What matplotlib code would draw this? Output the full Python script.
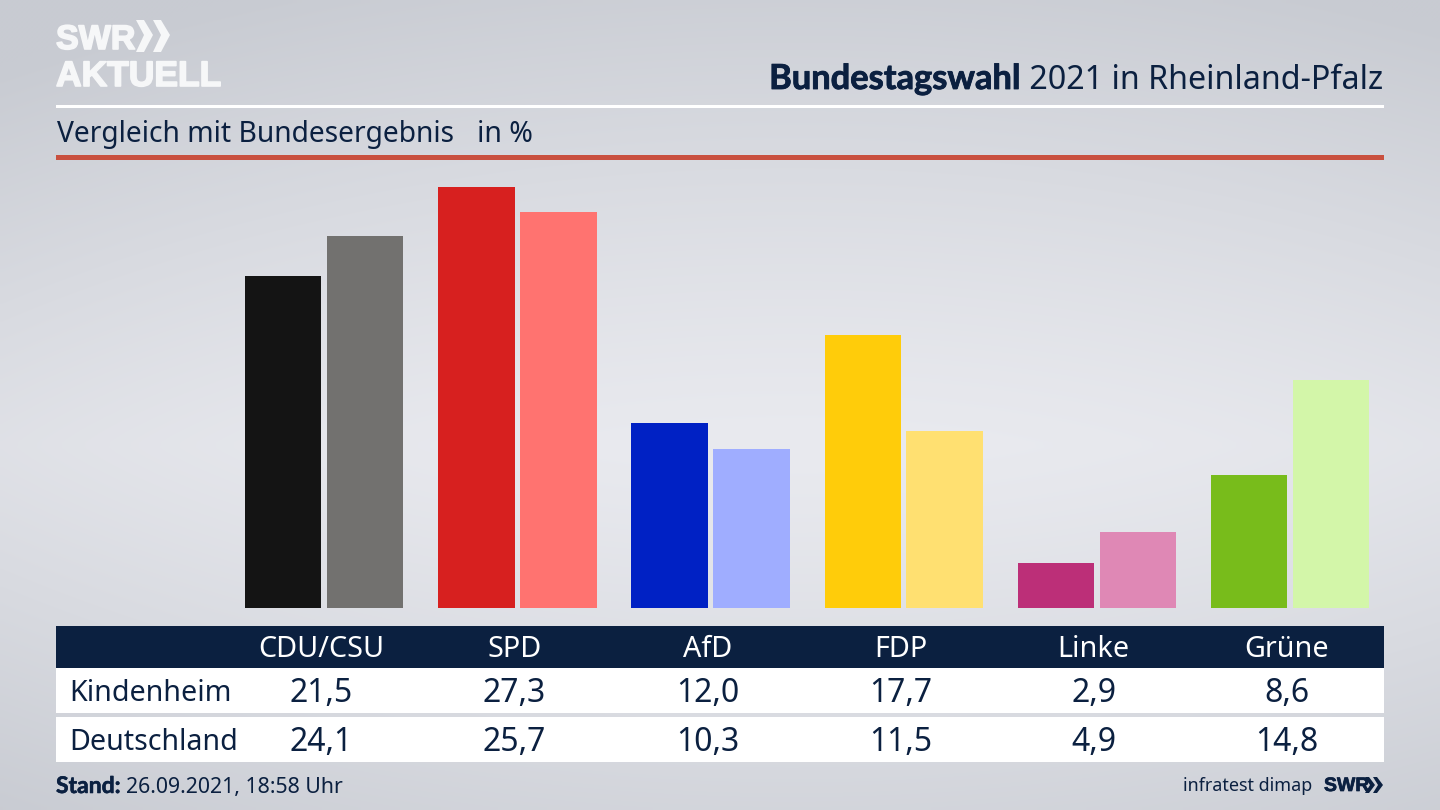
import matplotlib
matplotlib.use('Agg')
import matplotlib.pyplot as plt
import matplotlib.patheffects as pe
import numpy as np
from matplotlib.patches import Polygon, Rectangle

parties = ['CDU/CSU', 'SPD', 'AfD', 'FDP', 'Linke', 'Grüne']
kindenheim = [21.5, 27.3, 12.0, 17.7, 2.9, 8.6]
deutschland = [24.1, 25.7, 10.3, 11.5, 4.9, 14.8]
colors_kindenheim = ['#141414', '#d7201f', '#0021c4', '#ffcc0a', '#bc2f78', '#78bc1b']
colors_deutschland = ['#72716f', '#ff7370', '#9fadff', '#ffe071', '#df88b5', '#d3f6a9']

NAVY = '#0b2040'
FONT = 'Noto Sans'
BOLD = 'Lato'
LOGO = 'Liberation Sans'


def heavier(width, color):
    return [pe.withStroke(linewidth=width, foreground=color)]


plt.rcParams['font.family'] = FONT
fig = plt.figure(figsize=(14.4, 8.1), dpi=100)

# background, pixel coordinates for all the furniture
bg = fig.add_axes([0, 0, 1, 1])
bg.set_xlim(0, 1440)
bg.set_ylim(810, 0)
bg.axis('off')
yy, xx = np.mgrid[0:1:162j, 0:1:288j]
vert = np.clip(np.abs(yy - 0.55) / 0.55, 0, 1)
horiz = np.clip(np.abs(xx - 0.55) / 0.55, 0, 1)
shade = 1 - 0.85 * vert ** 1.2 - 0.3 * horiz ** 2
light = np.array([233, 234, 239]) / 255
dark = np.array([200, 203, 210]) / 255
grad = dark + (light - dark) * np.clip(shade, 0, 1)[..., None]
bg.imshow(grad, extent=(0, 1440, 810, 0), aspect='auto', interpolation='bilinear')

# logo
LOGO_WHITE = '#f6f7f8'
bg.text(56, 49, 'SWR', color=LOGO_WHITE, fontsize=24.5, fontweight='bold', family=LOGO, va='baseline',
        path_effects=heavier(1.2, LOGO_WHITE))
bg.text(56, 86, 'AKTUELL', color=LOGO_WHITE, fontsize=25.5, fontweight='bold', family=LOGO, va='baseline',
        path_effects=heavier(1.2, LOGO_WHITE))
for dx in (0, 17):
    bg.add_patch(Polygon([(136 + dx, 20), (144 + dx, 20), (153 + dx, 35), (144 + dx, 52),
                          (136 + dx, 52), (144 + dx, 35)], color=LOGO_WHITE, lw=0))

# headline
t2 = bg.text(1383, 89, ' 2021 in Rheinland-Pfalz', color=NAVY, fontsize=23.2, ha='right', va='baseline')
fig.canvas.draw()
left_px = t2.get_window_extent().x0
bg.text(left_px, 89, 'Bundestagswahl', color=NAVY, fontsize=24.8, fontweight='bold', family=BOLD,
        ha='right', va='baseline', path_effects=heavier(0.6, NAVY))
bg.add_patch(Rectangle((56, 105), 1328, 2.5, color='white', lw=0))
bg.text(57, 142, 'Vergleich mit Bundesergebnis', color=NAVY, fontsize=20.3, va='baseline')
bg.text(477, 142, 'in %', color=NAVY, fontsize=20.5, va='baseline')
bg.add_patch(Rectangle((56, 155), 1328, 5, color='#c9503f', lw=0))

# bars
ax = fig.add_axes([56 / 1440, (810 - 608) / 810, 1328 / 1440, 438 / 810])
ax.patch.set_alpha(0)
ax.axis('off')
ax.set_xlim((56 - 321) / 193.2, (1384 - 321) / 193.2)
ax.set_ylim(0, 438 / 15.42)
x = np.arange(len(parties))
w = 76.5 / 193.2
ax.bar(x - (38.25 - 0.4) / 193.2, kindenheim, width=w, color=colors_kindenheim)
ax.bar(x + (5.8 + 38.25) / 193.2, deutschland, width=w, color=colors_deutschland)

# table
bg.add_patch(Rectangle((56, 626), 1328, 42, color=NAVY, lw=0))
bg.add_patch(Rectangle((56, 668), 1328, 45, color='white', lw=0))
bg.add_patch(Rectangle((56, 717), 1328, 45, color='white', lw=0))
bg.text(69, 701, 'Kindenheim', color=NAVY, fontsize=20.6, va='baseline')
bg.text(69, 750, 'Deutschland', color=NAVY, fontsize=20.6, va='baseline')
for i, party in enumerate(parties):
    cx = 321 + 193.2 * i
    bg.text(cx, 657, party, color='white', fontsize=20.7, ha='center', va='baseline')
    bg.text(cx, 702, f'{kindenheim[i]:.1f}'.replace('.', ','), color=NAVY, fontsize=23, ha='center', va='baseline')
    bg.text(cx, 751, f'{deutschland[i]:.1f}'.replace('.', ','), color=NAVY, fontsize=23, ha='center', va='baseline')

# footer
bg.text(56, 793, 'Stand:', color=NAVY, fontsize=16.5, fontweight='bold', family=BOLD, va='baseline',
        path_effects=heavier(0.4, NAVY))
bg.text(126, 793, '26.09.2021, 18:58 Uhr', color=NAVY, fontsize=15.3, va='baseline')
bg.text(1312, 791, 'infratest dimap', color=NAVY, fontsize=12.9, ha='right', va='baseline')
bg.text(1324, 791, 'SWR', color=NAVY, fontsize=14, fontweight='bold', family=LOGO, va='baseline',
        path_effects=heavier(0.5, NAVY))
for dx in (0, 8):
    bg.add_patch(Polygon([(1365 + dx, 777), (1369 + dx, 777), (1375 + dx, 785), (1369 + dx, 793),
                          (1365 + dx, 793), (1370 + dx, 785)], color=NAVY, lw=0))

fig.savefig('out.png', dpi=100)
